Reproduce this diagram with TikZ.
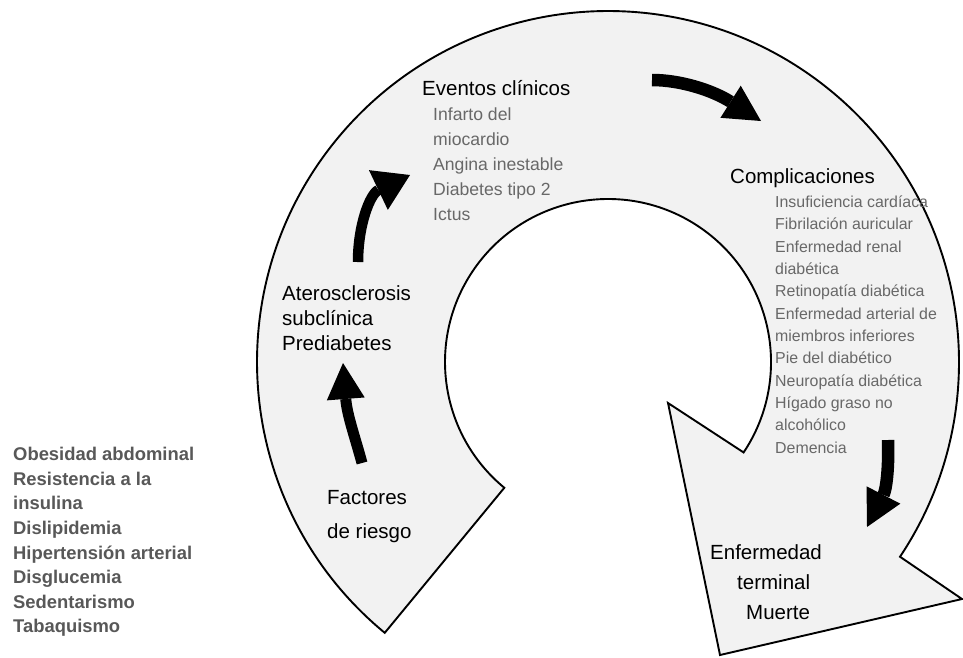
\documentclass[tikz,border=0pt]{standalone}
\usepackage{fontspec}
\setmainfont{Liberation Sans}
\usetikzlibrary{arrows.meta,calc}
\definecolor{ringfill}{HTML}{F2F2F2}
\definecolor{listgray}{HTML}{686868}
\definecolor{riskgray}{HTML}{585858}
\begin{document}
\begin{tikzpicture}[x=1pt,y=-1pt,
  ring/.style={draw=black, line width=1.9pt, fill=ringfill, line join=miter},
  lbl/.style={inner sep=0pt, anchor=base west, font=\fontsize{20.5}{25}\selectfont},
  evlist/.style={inner sep=0pt, anchor=base west, text=listgray, font=\fontsize{17.6}{25}\selectfont},
  colist/.style={inner sep=0pt, anchor=base west, text=listgray, font=\fontsize{15.9}{22}\selectfont},
  risk/.style={inner sep=0pt, anchor=base west, text=riskgray, font=\bfseries\fontsize{18.4}{24}\selectfont},
  flow/.style={draw=black, line width=#1, line cap=butt,
    -{Triangle[length=36pt,width=38pt,line width=0pt]}},
  flow/.default=11pt,
  bigflow/.style={draw=black, line width=10.5pt, line cap=butt,
    -{Triangle[length=35pt,width=44pt,line width=0pt]}}
]
\useasboundingbox (0,0) rectangle (963,657);
\fill[white] (0,0) rectangle (963,657);

% ring-shaped big arrow
\coordinate (C) at (608,362);
\coordinate (tailout) at ($(C)+(129.5:351)$);
\coordinate (inj) at ($(C)+(33.7:163)$);
\coordinate (barbR) at (962,599);
\coordinate (tip) at (720,655);
\coordinate (barbL) at (668,403);
\draw[ring] (tailout) arc[start angle=129.5, end angle=393.7, radius=351]
  -- (barbR) -- (tip) -- (barbL) -- (inj)
  arc[start angle=33.7, end angle=-230.5, radius=163] -- cycle;

% main labels
\node[lbl] (ev) at (422,95) {Eventos clínicos};
\foreach \t [count=\i from 0] in {Infarto del,miocardio,Angina inestable,Diabetes tipo 2,Ictus}
  \node[evlist] (ev\i) at (433,{120.7+25*\i}) {\t};

\node[lbl] (co) at (730,183) {Complicaciones};
\foreach \t [count=\i from 0] in {Insuficiencia cardíaca,Fibrilación auricular,Enfermedad renal,diabética,Retinopatía diabética,Enfermedad arterial de,miembros inferiores,Pie del diabético,Neuropatía diabética,Hígado graso no,alcohólico,Demencia}
  \node[colist] (co\i) at (775,{207.3+22.35*\i}) {\t};

\node[lbl] (at1) at (282,300) {Aterosclerosis};
\node[lbl] (at2) at (282,325) {subclínica};
\node[lbl] (at3) at (282,350) {Prediabetes};

\node[lbl] (fr1) at (327,504) {Factores};
\node[lbl] (fr2) at (327,538) {de riesgo};

\node[lbl] (et1) at (710,559) {Enfermedad};
\node[lbl] (et2) at (737,589) {terminal};
\node[lbl] (et3) at (746,619) {Muerte};

\foreach \t [count=\i from 0] in {Obesidad abdominal,Resistencia a la,insulina,Dislipidemia,Hipertensión arterial,Disglucemia,Sedentarismo,Tabaquismo}
  \node[risk] (rf\i) at (13,{460.7+24.6*\i}) {\t};

% black flow arrows
\coordinate (a1s) at (362,463);
\coordinate (a1e) at (343,363);
\draw[flow] (a1s) .. controls (355,437) and (347,415) .. (a1e);

\coordinate (a2s) at (358,262);
\coordinate (a2e) at (410,175);
\draw[bigflow] (a2s) .. controls (358,225) and (370,194) .. (a2e);

\coordinate (a3s) at (652,80);
\coordinate (a3e) at (761,121);
\draw[flow=12.5pt] (a3s) .. controls (680,80) and (712,90) .. (a3e);

\coordinate (a4s) at (888,440);
\coordinate (a4e) at (867,527);
\draw[flow=12.5pt] (a4s) .. controls (889,470) and (886,490) .. (a4e);
\end{tikzpicture}
\end{document}
